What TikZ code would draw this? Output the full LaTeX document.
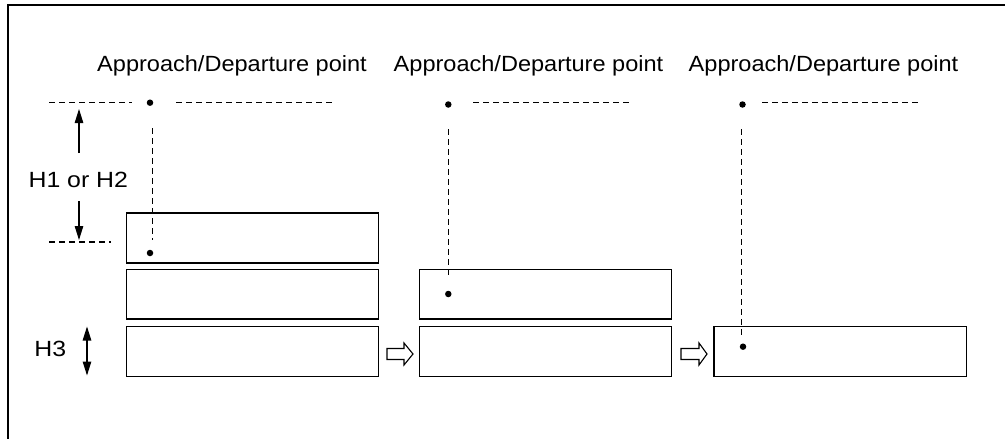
\documentclass[tikz,border=0pt]{standalone}
\usepackage{fontspec}
\setmainfont{Liberation Sans}
\usetikzlibrary{arrows.meta}
\begin{document}
\begin{tikzpicture}[x=1pt,y=-1pt,
  box/.style={draw,line width=1.4pt,inner sep=0pt,anchor=north west,minimum width=252.5pt},
  guide/.style={line width=1.1pt,dash pattern=on 6pt off 4pt},
  dotpt/.style={circle,fill=black,inner sep=0pt,minimum size=6.5pt},
  lbl/.style={inner sep=0pt,anchor=base,font=\fontsize{22}{25}\selectfont},
  dim/.style={line width=1.1pt,-{Triangle[length=14pt,width=8.5pt]}},
  hollow/.style={draw,line width=1.1pt,fill=white,line join=miter}]
\useasboundingbox (0,0) rectangle (1005,439);
% frame (top and left edges)
\coordinate (fTL) at (8,5);
\coordinate (fTR) at (1006,5);
\coordinate (fBL) at (8,440);
\draw[line width=2.2pt] (fBL) -- (fTL) -- (fTR);
% labels
\node[lbl] (l1) at (232,71.7) {\scalebox{1.07}[1]{Approach/Departure point}};
\node[lbl] (l2) at (528.5,71.7) {\scalebox{1.07}[1]{Approach/Departure point}};
\node[lbl] (l3) at (823.5,71.7) {\scalebox{1.07}[1]{Approach/Departure point}};
\node[lbl] (h12) at (78.3,187.5) {\scalebox{1.13}[1]{H1 or H2}};
\node[lbl] (h3) at (50.3,356.9) {\scalebox{1.13}[1]{H3}};
% boxes
\node[box,minimum height=50pt] (a1) at (125.5,212.3) {};
\node[box,minimum height=49.3pt] (a2) at (125.5,269) {};
\node[box,minimum height=50.3pt] (a3) at (125.5,325.7) {};
\node[box,minimum height=49.3pt,minimum width=252pt] (b2) at (419,269) {};
\node[box,minimum height=50.3pt,minimum width=252pt] (b3) at (419,325.7) {};
\node[box,minimum height=50.3pt,minimum width=252.7pt] (c3) at (713.3,325.7) {};
% dots
\node[dotpt] (d1t) at (150,102.7) {};
\node[dotpt] (d2t) at (448.3,104.5) {};
\node[dotpt] (d3t) at (742.5,104.5) {};
\node[dotpt] (d1b) at (150,253) {};
\node[dotpt] (d2b) at (448.3,294) {};
\node[dotpt] (d3b) at (743,346.7) {};
% horizontal guides
\coordinate (g1a) at (49,102.7); \coordinate (g1b) at (132,102.7);
\coordinate (g1c) at (176,102.7); \coordinate (g1d) at (332,102.7);
\coordinate (g2a) at (473,102.7); \coordinate (g2b) at (630,102.7);
\coordinate (g3a) at (762,102.7); \coordinate (g3b) at (918,102.7);
\coordinate (g4a) at (49,242); \coordinate (g4b) at (111,242);
\draw[guide] (g1a) -- (g1b);
\draw[guide] (g1c) -- (g1d);
\draw[guide] (g2a) -- (g2b);
\draw[guide] (g3a) -- (g3b);
\draw[guide] (g4a) -- (g4b);
% vertical guides
\coordinate (v1a) at (152.3,128); \coordinate (v1b) at (152.3,240);
\coordinate (v2a) at (448.6,129); \coordinate (v2b) at (448.6,278);
\coordinate (v3a) at (741.7,129); \coordinate (v3b) at (741.7,336);
\draw[guide] (v1a) -- (v1b);
\draw[guide] (v2a) -- (v2b);
\draw[guide] (v3a) -- (v3b);
% dimension arrows H1/H2
\coordinate (up0) at (79,153); \coordinate (up1) at (79,109);
\coordinate (dn0) at (79,201); \coordinate (dn1) at (79,240);
\draw[dim] (up0) -- (up1);
\draw[dim] (dn0) -- (dn1);
% H3 double arrow
\coordinate (h3a) at (87,326.5); \coordinate (h3b) at (87,375.5);
\draw[line width=1.1pt,{Triangle[length=14pt,width=8.5pt]}-{Triangle[length=14pt,width=8.5pt]}] (h3a) -- (h3b);
% hollow arrows
\draw[hollow] (387,348.5) -- (404,348.5) -- (404,343) -- (413,354) -- (404,365) -- (404,359.5) -- (387,359.5) -- cycle;
\draw[hollow] (681,348.5) -- (699,348.5) -- (699,343) -- (707,354) -- (699,365) -- (699,359.5) -- (681,359.5) -- cycle;
\end{tikzpicture}
\end{document}
